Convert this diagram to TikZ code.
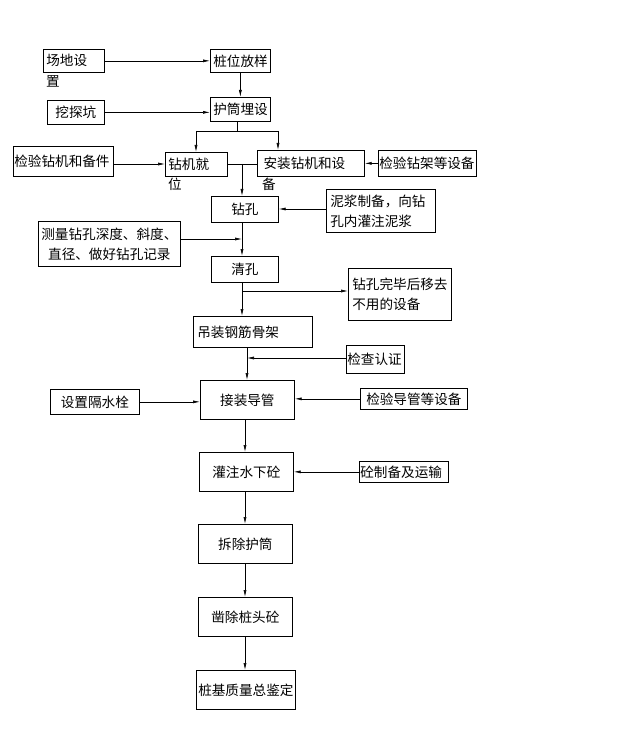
\documentclass[tikz,border=0pt]{standalone}
\usepackage{fontspec}
\newfontfamily\cjk{Noto Sans CJK SC}
\usetikzlibrary{arrows.meta}

\tikzset{
    box/.style={draw, line width=0.7pt, anchor=north west, inner xsep=3pt, inner ysep=0pt,
        align=left, font=\cjk\fontsize{13.6}{20}\selectfont},
    txt/.style={anchor=north west, inner sep=0pt, font=\cjk\fontsize{13.6}{20}\selectfont},
    arr/.style={line width=0.6pt, -{Latex[length=7pt,width=3pt]}},
    ln/.style={line width=0.6pt}
}

\begin{document}
\begin{tikzpicture}[x=1pt,y=-1pt]
\useasboundingbox (0,0) rectangle (618,751);

% boxes
\node[box, text width=55, minimum height=23] (site) at (43,49) {场地设};
\node[txt] (siteb) at (46,75) {置};
\node[box, text width=54, minimum height=23] (stake) at (210,49) {桩位放样};
\node[box, text width=51, minimum height=24, align=center] (pit) at (47,100) {挖探坑};
\node[box, text width=54, minimum height=24] (casing) at (210,97) {护筒埋设};
\node[box, text width=98, minimum height=30, inner xsep=1pt] (chkrig) at (13,146) {检验钻机和备件};
\node[box, text width=56, minimum height=24] (rigpos) at (165,152) {钻机就};
\node[txt] (rigposb) at (168,178) {位};
\node[box, text width=99, minimum height=26, inner xsep=4pt] (install) at (257,150) {\,安装钻机和设};
\node[txt] (installb) at (262,178) {备};
\node[box, text width=96, minimum height=26, inner xsep=1pt] (chkframe) at (378,150) {检验钻架等设备};
\node[box, text width=61, minimum height=26, align=center] (drill) at (211,196) {钻孔};
\node[box, text width=101, minimum height=43, inner xsep=4pt] (mud) at (326,189) {泥浆制备，向钻\\孔内灌注泥浆};
\node[box, text width=136, minimum height=45, align=center] (measure) at (38,221) {测量钻孔深度、斜度、\\直径、做好钻孔记录};
\node[box, text width=61, minimum height=26, align=center] (clean) at (211,256) {清孔};
\node[box, text width=95, minimum height=52, inner xsep=4pt] (remove) at (348,268) {钻孔完毕后移去\\不用的设备};
\node[box, text width=111, minimum height=31, inner xsep=4pt] (cage) at (193,316) {吊装钢筋骨架};
\node[box, text width=56, minimum height=28, inner xsep=1pt] (check) at (346,345) {检查认证};
\node[box, text width=88, minimum height=39, align=center] (pipe) at (200,380) {接装导管};
\node[box, text width=83, minimum height=25, align=center] (plug) at (50,389) {设置隔水栓};
\node[box, text width=101, minimum height=21, align=center] (chkpipe) at (360,388) {检验导管等设备};
\node[box, text width=88, minimum height=39, align=center] (pour) at (199,452) {灌注水下砼};
\node[box, text width=87, minimum height=21, inner xsep=1pt] (conc) at (359,461) {砼制备及运输};
\node[box, text width=88, minimum height=39, align=center] (casrm) at (198,524) {拆除护筒};
\node[box, text width=88, minimum height=39, align=center] (chisel) at (198,597) {凿除桩头砼};
\node[box, text width=97, minimum height=39, inner xsep=1pt, align=center] (final) at (196,670) {桩基质量总鉴定};

% junctions
\coordinate (forkM) at (237,131);
\coordinate (forkL) at (196,131);
\coordinate (forkR) at (278,131);
\coordinate (rigmid) at (242,164);
\coordinate (measj) at (242,239);
\coordinate (remj) at (242,291);
\coordinate (chkj) at (247,358);

% connectors
\draw[arr] (site.east) -- (stake.west);
\draw[arr] (stake) -- (casing);
\draw[arr] (pit.east) -- (pit.east -| casing.west);
\draw[ln] (casing.south -| forkM) -- (forkM);
\draw[ln] (forkL) -- (forkR);
\draw[arr] (forkL) -- (forkL |- rigpos.north);
\draw[arr] (forkR) -- (forkR |- install.north);
\draw[arr] (chkrig.east |- rigmid) -- (rigpos.west |- rigmid);
\draw[arr] (chkframe.west) -- (install.east);
\draw[ln] (rigpos.east |- rigmid) -- (install.west |- rigmid);
\draw[arr] (rigmid) -- (rigmid |- drill.north);
\draw[arr] (mud.west |- 0,209) -- (drill.east |- 0,209);
\draw[ln] (drill.south -| measj) -- (measj);
\draw[arr] (measure.east |- measj) -- (measj);
\draw[arr] (measj) -- (measj |- clean.north);
\draw[ln] (clean.south -| remj) -- (remj);
\draw[arr] (remj) -- (remj -| remove.west);
\draw[arr] (remj) -- (remj |- cage.north);
\draw[ln] (cage.south -| chkj) -- (chkj);
\draw[arr] (check.west |- chkj) -- (chkj);
\draw[arr] (chkj) -- (chkj |- pipe.north);
\draw[arr] (plug.east) -- (plug.east -| pipe.west);
\draw[arr] (chkpipe.west) -- (chkpipe.west -| pipe.east);
\draw[arr] (pipe.south -| 245,0) -- (pour.north -| 245,0);
\draw[arr] (conc.west) -- (conc.west -| pour.east);
\draw[arr] (pour.south -| 245,0) -- (casrm.north -| 245,0);
\draw[arr] (casrm.south -| 245,0) -- (chisel.north -| 245,0);
\draw[arr] (chisel.south -| 245,0) -- (final.north -| 245,0);
\end{tikzpicture}
\end{document}
